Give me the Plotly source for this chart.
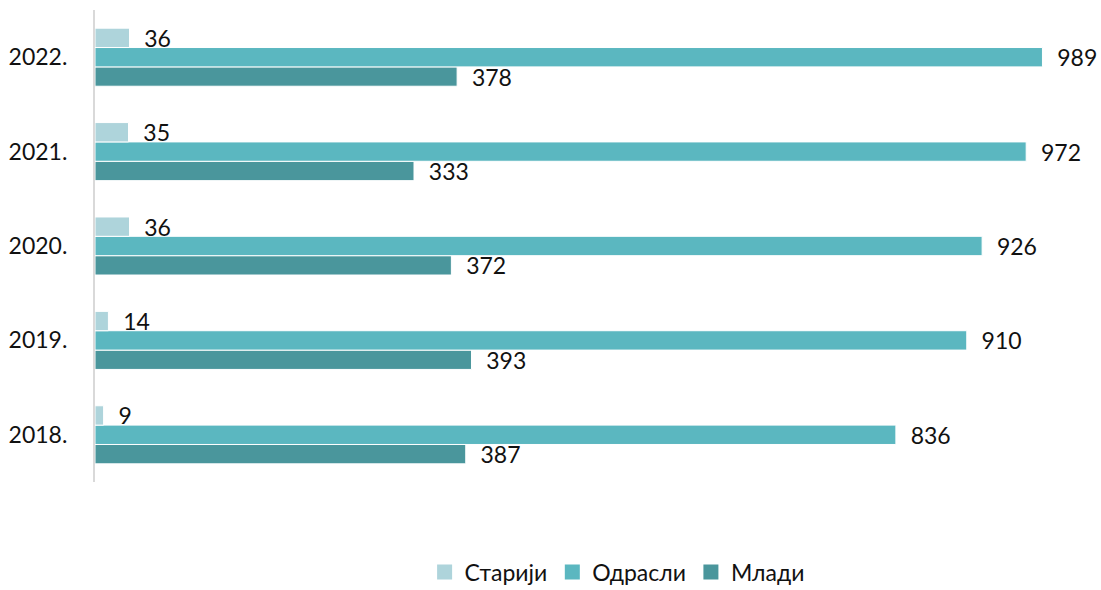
import plotly.graph_objects as go

years = ["2018.", "2019.", "2020.", "2021.", "2022."]
stariji = [9, 14, 36, 35, 36]
odrasli = [836, 910, 926, 972, 989]
mladi = [387, 393, 372, 333, 378]

series = [
    ("Млади", mladi, "#4A969C"),
    ("Одрасли", odrasli, "#5BB7C0"),
    ("Старији", stariji, "#AED4DB"),
]

fig = go.Figure()
for name, vals, color in series:
    fig.add_trace(go.Bar(
        y=years, x=vals, name=name, orientation="h",
        marker=dict(color=color, line=dict(color="white", width=1)),
        text=vals, texttemplate="\u00a0\u00a0%{x}",
        textposition="outside", constraintext="none", cliponaxis=False,
        textfont=dict(family="Lato", size=23, color="#111111"),
        showlegend=False,
    ))

# legend keys drawn as square markers, in reading order
for rank, (name, vals, color) in enumerate(reversed(series)):
    fig.add_trace(go.Scatter(
        x=[None], y=[None], mode="markers", name=name,
        marker=dict(symbol="square", size=15, color=color),
        legendrank=rank + 1,
    ))

fig.update_layout(
    width=1101, height=590,
    margin=dict(l=95, r=48, t=10, b=108, autoexpand=False),
    paper_bgcolor="white", plot_bgcolor="white",
    barmode="group", bargap=0.385, bargroupgap=0,
    font=dict(family="Lato", size=23, color="#111111"),
    showlegend=True,
    legend=dict(orientation="h", x=0.545, xanchor="center", y=-0.145,
                yanchor="top", font=dict(size=23), itemwidth=30,
                tracegroupgap=0, borderwidth=0),
    xaxis=dict(range=[0, 1000], showgrid=False, showticklabels=False,
               zeroline=False, showline=False),
    yaxis=dict(showgrid=False, showline=True, linecolor="#D9D9D9",
               linewidth=2, ticks="", ticklabelstandoff=21,
               tickfont=dict(size=23)),
)

fig.write_html("out.html")
